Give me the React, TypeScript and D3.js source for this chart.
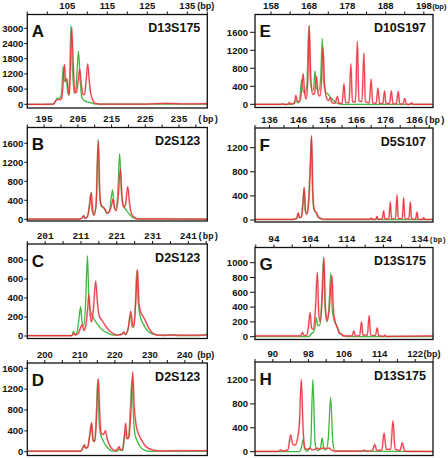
import React from 'react';
import * as d3 from 'd3';

type Pt = [number, number];

// ---------- Panel A : D13S175 ----------
const aRange: Pt = [95, 140];
const aLabels = [105, 115, 125, 135];
const aYTicks = [0, 600, 1200, 1800, 2400, 3000];
const aRed: Pt[] = [[95,0],[101.5,10],[102.2,150],[102.8,200],[103.3,180],[103.6,260],[103.9,700],[104.3,1580],[104.6,900],[104.9,1000],[105.2,600],[105.5,380],[105.8,1500],[106.1,3050],[106.5,1500],[106.9,450],[107.3,500],[107.7,900],[108.1,1400],[108.5,800],[108.9,380],[109.3,400],[109.7,900],[110.1,1600],[110.5,900],[110.9,400],[111.4,150],[112,40],[113,10],[125,10],[130,40],[134,20],[140,30]];
const aGreen: Pt[] = [[95,0],[101.5,10],[102,120],[102.5,230],[103.2,250],[103.6,500],[103.95,1500],[104.3,900],[104.7,1000],[105.1,500],[105.4,350],[105.6,1200],[105.9,3100],[106.3,1400],[106.7,450],[107.1,500],[107.4,1200],[107.8,2100],[108.2,1000],[108.6,300],[109.2,150],[110,100],[111,60],[112,10],[140,0]];

// ---------- Panel B : D2S123 ----------
const bRange: Pt = [190, 243.4];
const bLabels = [195, 205, 215, 225, 235];
const bYTicks = [0, 400, 800, 1200, 1600];
const bRed: Pt[] = [[190,5],[205.5,5],[206.3,30],[206.7,75],[207.1,20],[207.8,50],[208.5,300],[209,560],[209.4,200],[209.8,90],[210.4,300],[211.1,1650],[211.5,600],[211.9,300],[212.5,260],[213,220],[213.6,130],[214.2,150],[215,300],[215.5,430],[215.9,230],[216.4,180],[217,500],[217.6,1070],[218.1,450],[218.6,250],[219.1,300],[219.8,690],[220.3,350],[220.9,120],[221.8,40],[223,10],[243.4,5]];
const bGreen: Pt[] = [[190,5],[205.5,5],[206.3,30],[206.7,80],[207.1,20],[207.8,50],[208.4,300],[208.8,540],[209.2,200],[209.7,90],[210.4,300],[211,1680],[211.4,600],[211.9,280],[212.4,250],[212.9,220],[213.6,120],[214.3,150],[214.9,450],[215.3,620],[215.7,300],[216.2,200],[216.8,500],[217.4,1380],[217.9,600],[218.5,300],[219.5,180],[220.5,90],[221.5,30],[223,5],[243.4,5]];

// ---------- Panel C : D2S123 ----------
const cRange: Pt = [196, 246.3];
const cLabels = [201, 211, 221, 231, 241];
const cYTicks = [0, 200, 400, 600, 800];
const cRed: Pt[] = [[196,5],[208.5,5],[209,30],[209.4,10],[210.3,30],[210.8,80],[211.3,120],[211.8,60],[212.3,100],[212.9,300],[213.2,440],[213.6,220],[214,150],[214.5,300],[215.1,580],[215.6,350],[216.1,210],[216.8,170],[217.6,120],[218.6,70],[219.8,30],[221,10],[222.5,20],[223,40],[223.4,15],[224.2,80],[224.9,260],[225.4,130],[225.8,100],[226.3,350],[226.8,700],[227.2,350],[227.7,250],[228.3,210],[229,160],[230,80],[231,30],[232.5,10],[246.3,10]];
const cGreen: Pt[] = [[196,5],[208.4,5],[208.9,50],[209.3,15],[209.9,40],[210.5,200],[210.9,310],[211.3,150],[211.8,110],[212.3,350],[212.8,845],[213.2,400],[213.7,260],[214.5,190],[215.5,130],[216.5,80],[218,40],[220,10],[222.5,20],[223,40],[223.4,15],[224.2,80],[224.8,220],[225.3,100],[225.7,90],[226.2,350],[226.6,690],[227,350],[227.6,200],[228.5,120],[229.5,60],[231,20],[234,5],[237,15],[238,5],[244,5],[246.3,20]];

// ---------- Panel D : D2S123 ----------
const dRange: Pt = [195, 246.4];
const dLabels = [200, 210, 220, 230, 240];
const dYTicks = [0, 400, 800, 1200, 1600];
const dRed: Pt[] = [[195,10],[210.3,10],[210.9,80],[211.3,130],[211.7,70],[212.2,80],[212.9,350],[213.4,560],[213.8,220],[214.3,200],[214.8,700],[215.3,1400],[215.7,700],[216.1,350],[216.7,330],[217.3,400],[217.8,250],[218.5,120],[219.3,50],[220.3,20],[220.8,60],[221.2,100],[221.6,40],[222.2,40],[222.7,300],[223.1,550],[223.5,250],[224,280],[224.6,800],[225.1,1530],[225.5,900],[226.1,500],[226.9,320],[227.8,200],[228.9,100],[230.5,40],[233,15],[246.4,20]];
const dGreen: Pt[] = [[195,5],[210.3,5],[210.9,80],[211.2,120],[211.6,70],[212.2,80],[212.9,350],[213.3,540],[213.7,220],[214.2,190],[214.7,700],[215.1,1380],[215.5,600],[215.9,340],[216.6,220],[217.3,130],[218.2,60],[219.2,10],[220.8,10],[221.2,60],[221.6,20],[222.2,20],[222.7,250],[223,400],[223.4,250],[223.9,280],[224.4,800],[224.9,1380],[225.3,700],[225.7,350],[226.3,220],[227.2,100],[228.5,30],[230,5],[246.4,5]];

// ---------- Panel E : D10S197 ----------
const eRange: Pt = [153.8, 200.4];
const eLabels = [158, 168, 178, 188, 198];
const eYTicks = [0, 400, 800, 1200, 1600];
const eRed: Pt[] = [[153.8,0],[160.6,0],[161,15],[161.4,0],[162.4,0],[162.8,40],[163.2,5],[164.1,20],[164.5,200],[164.9,60],[165.5,60],[166,300],[166.4,680],[166.8,250],[167.2,120],[167.6,500],[168,1750],[168.4,600],[168.9,220],[169.4,250],[169.9,620],[170.3,250],[170.8,180],[171.2,500],[171.6,1270],[172,450],[172.5,150],[173,80],[173.5,150],[173.9,40],[174.7,20],[175.4,170],[175.8,20],[176.6,20],[177.1,460],[177.5,40],[178.4,30],[178.9,900],[179.3,60],[180.1,50],[180.6,1400],[181,80],[181.8,60],[182.3,1140],[182.7,60],[183.7,30],[184.2,560],[184.6,30],[185.5,20],[186,360],[186.4,20],[187.3,15],[187.7,300],[188.1,15],[189,15],[189.5,300],[189.9,15],[190.8,10],[191.3,290],[191.7,10],[192.5,5],[193,130],[193.4,5],[194.3,0],[194.8,30],[195.2,0],[200.4,0]];
const eGreen: Pt[] = [[153.8,0],[163.5,0],[164.2,40],[164.6,80],[165,30],[165.5,100],[166,550],[166.4,300],[166.9,250],[167.4,450],[167.9,1750],[168.3,500],[168.8,300],[169.2,400],[169.5,740],[169.9,350],[170.5,300],[171,600],[171.4,1460],[171.8,500],[172.3,280],[173,220],[173.8,130],[174.7,60],[175.5,20],[176.5,0],[200.4,0]];

// ---------- Panel F : D5S107 ----------
const fRange: Pt = [131, 192.3];
const fLabels = [136, 146, 156, 166, 176, 186];
const fYTicks = [0, 400, 800, 1200];
const fRed: Pt[] = [[131,10],[144,10],[145.4,30],[145.9,120],[146.3,40],[147,50],[147.5,250],[147.95,540],[148.4,150],[148.9,100],[149.5,300],[150.1,900],[150.5,1400],[150.9,500],[151.3,200],[151.7,150],[152.2,120],[152.7,60],[153.5,30],[155,15],[165,15],[170.6,15],[171,30],[171.4,10],[172.6,15],[173,60],[173.4,15],[174.8,20],[175.3,150],[175.7,20],[177.1,20],[177.6,300],[178,20],[179.4,25],[179.9,420],[180.3,25],[181.7,25],[182.2,370],[182.6,25],[184,20],[184.5,300],[184.9,20],[186.3,15],[186.8,130],[187.2,15],[188.7,10],[189.1,40],[189.5,10],[192.3,10]];
const fGreen: Pt[] = [[131,5],[144,5],[145.4,25],[145.85,110],[146.25,40],[146.9,50],[147.4,250],[147.9,520],[148.3,150],[148.8,100],[149.4,300],[150,900],[150.4,1380],[150.8,500],[151.2,200],[151.6,140],[152.1,110],[152.6,50],[153.5,20],[155,5],[170.6,5],[171,25],[171.4,5],[172.6,5],[173,45],[173.4,5],[192.3,5]];

// ---------- Panel G : D13S175 ----------
const gRange: Pt = [88.8, 137.6];
const gLabels = [94, 104, 114, 124, 134];
const gYTicks = [0, 200, 400, 600, 800, 1000];
const gRed: Pt[] = [[88.8,10],[100.5,10],[101.4,15],[101.8,60],[102.2,15],[103,20],[103.5,150],[103.9,330],[104.3,120],[104.8,100],[105.4,400],[105.9,870],[106.3,300],[106.7,200],[107.2,500],[107.7,1070],[108.1,400],[108.6,220],[109.1,350],[109.9,825],[110.3,350],[110.8,200],[111.4,120],[112,40],[112.5,40],[113,10],[115.4,10],[115.9,80],[116.3,10],[117.5,15],[118,200],[118.4,20],[119.6,20],[120.1,290],[120.5,20],[121.8,15],[122.3,120],[122.7,15],[124,5],[124.4,20],[124.8,5],[137.6,10]];
const gGreen: Pt[] = [[88.8,0],[103.5,0],[104.2,40],[104.8,60],[105.3,140],[105.6,260],[106,150],[106.6,160],[107.1,500],[107.6,1070],[108,400],[108.5,200],[109,350],[109.6,860],[110,350],[110.5,220],[111.2,150],[112,60],[113,10],[114,0],[137.6,0]];

// ---------- Panel H : D13S175 ----------
const hRange: Pt = [86, 126];
const hLabels = [90, 98, 106, 114, 122];
const hYTicks = [0, 400, 800, 1200];
const hRed: Pt[] = [[86,5],[91.2,5],[91.8,30],[92.3,10],[93.4,30],[94,280],[94.5,120],[95,110],[95.5,200],[96,500],[96.4,1210],[96.8,400],[97.2,60],[97.8,40],[98.4,60],[98.8,30],[99.5,40],[100,60],[100.5,40],[101.2,60],[102,55],[102.6,60],[103.2,30],[104,10],[110,10],[110.5,25],[111,10],[112.4,20],[112.9,120],[113.4,20],[114.5,30],[115,310],[115.5,40],[116.5,40],[117,520],[117.5,40],[118.6,20],[119.1,150],[119.6,15],[120.5,5],[126,5]];
const hGreen: Pt[] = [[86,0],[96,0],[96.4,60],[96.8,200],[97.2,40],[97.7,10],[98.5,100],[99,1210],[99.5,150],[100,20],[100.7,60],[101.1,230],[101.5,40],[102,30],[102.5,250],[103,910],[103.5,150],[104,10],[126,0]];

const letters = ['A', 'B', 'C', 'D', 'E', 'F', 'G', 'H'];
const markers = ['D13S175', 'D2S123', 'D2S123', 'D2S123', 'D10S197', 'D5S107', 'D13S175', 'D13S175'];

interface PanelDef {
  letter: string; marker: string; range: Pt; labels: number[]; step: number;
  yTicks: number[]; red: Pt[]; green: Pt[]; mono: boolean;
  left: number; right: number; top: number; bottom: number; y0: number; yMax: number;
}

const L = { left: 27.3, right: 207.3 };
const R = { left: 255, right: 433 };

const panels: PanelDef[] = [
  { letter: letters[0], marker: markers[0], range: aRange, labels: aLabels, step: 5, yTicks: aYTicks, red: aRed, green: aGreen, mono: false, ...L, top: 14.5, bottom: 108, y0: 104.3, yMax: 28.3 },
  { letter: letters[1], marker: markers[1], range: bRange, labels: bLabels, step: 5, yTicks: bYTicks, red: bRed, green: bGreen, mono: true, ...L, top: 127.5, bottom: 221, y0: 219.3, yMax: 143.3 },
  { letter: letters[2], marker: markers[2], range: cRange, labels: cLabels, step: 5, yTicks: cYTicks, red: cRed, green: cGreen, mono: true, ...L, top: 244, bottom: 338.5, y0: 336, yMax: 260 },
  { letter: letters[3], marker: markers[3], range: dRange, labels: dLabels, step: 5, yTicks: dYTicks, red: dRed, green: dGreen, mono: false, ...L, top: 363, bottom: 455.5, y0: 451.7, yMax: 368.3 },
  { letter: letters[4], marker: markers[4], range: eRange, labels: eLabels, step: 5, yTicks: eYTicks, red: eRed, green: eGreen, mono: false, ...R, top: 14.5, bottom: 107.5, y0: 104.3, yMax: 32.3 },
  { letter: letters[5], marker: markers[5], range: fRange, labels: fLabels, step: 5, yTicks: fYTicks, red: fRed, green: fGreen, mono: true, ...R, top: 128, bottom: 222, y0: 220, yMax: 147.7 },
  { letter: letters[6], marker: markers[6], range: gRange, labels: gLabels, step: 5, yTicks: gYTicks, red: gRed, green: gGreen, mono: true, ...R, top: 247.5, bottom: 339.5, y0: 336.7, yMax: 262.7 },
  { letter: letters[7], marker: markers[7], range: hRange, labels: hLabels, step: 4, yTicks: hYTicks, red: hRed, green: hGreen, mono: false, ...R, top: 362, bottom: 455.5, y0: 451.7, yMax: 380 },
];

const SANS = '"Liberation Sans", Arial, Helvetica, sans-serif';
const MONO = '"Liberation Mono", "DejaVu Sans Mono", monospace';
const GREEN = '#3cb83a';
const RED = '#ea2733';
const EDGE = 446.5;

function Panel({ p, i }: { p: PanelDef; i: number }) {
  const x = d3.scaleLinear().domain(p.range).range([p.left, p.right]);
  const maxTick = p.yTicks[p.yTicks.length - 1];
  const y = d3.scaleLinear().domain([0, maxTick]).range([p.y0, p.yMax]);
  const line = d3.line<Pt>().x(d => x(d[0])).y(d => y(d[1])).curve(d3.curveMonotoneX);
  const first = p.labels[0];
  const k0 = Math.ceil((p.range[0] - first) / p.step - 1e-6);
  const ticks = d3.range(k0, Math.floor((p.range[1] - first) / p.step + 1e-6) + 1).map(k => first + k * p.step);
  const clipId = `clip${i}`;
  const axisFont = p.mono ? MONO : SANS;
  const labelSize = 9.5;
  const charW = p.mono ? 0.6 * labelSize : 0.556 * labelSize;
  const emW = p.mono ? 2.4 : 1.888; // width of "(bp)" in em
  const last = p.labels[p.labels.length - 1];
  const lastRight = x(last) + (String(last).length * charW) / 2;
  const bpX = Math.max(p.right - 10, lastRight + 0.5);
  const bpSize = Math.min(9, (EDGE - bpX) / emW);
  const isRight = p.left > 200;
  const yTickLen = isRight ? 5 : 3;
  const yLabelGap = isRight ? 7 : 4;
  return (
    <g>
      <defs>
        <clipPath id={clipId}>
          <rect x={p.left} y={p.top} width={p.right - p.left} height={p.bottom - p.top} />
        </clipPath>
      </defs>
      <g clipPath={`url(#${clipId})`}>
        <path d={line(p.green) || ''} fill="none" stroke={GREEN} strokeWidth={1.3} strokeLinejoin="round" />
        <path d={line(p.red) || ''} fill="none" stroke="#f59aa3" strokeWidth={2.2} strokeOpacity={0.45} strokeLinejoin="round" />
        <path d={line(p.red) || ''} fill="none" stroke={RED} strokeWidth={1.2} strokeOpacity={0.85} strokeLinejoin="round" />
      </g>
      <rect x={p.left} y={p.top} width={p.right - p.left} height={p.bottom - p.top} fill="none" stroke="#111" strokeWidth={1.3} />
      {ticks.map(t => (
        <line key={t} x1={x(t)} x2={x(t)} y1={p.top} y2={p.top - 3} stroke="#111" strokeWidth={1} />
      ))}
      {p.labels.map(t => (
        <text key={t} x={x(t)} y={p.top - 5.5} textAnchor="middle" fontFamily={axisFont} fontWeight="bold" fontSize={labelSize} fill="#111">{t}</text>
      ))}
      <text x={bpX} y={p.top - 5.5} fontFamily={axisFont} fontWeight="bold" fontSize={bpSize} fill="#111">(bp)</text>
      {p.yTicks.map(t => (
        <g key={t}>
          <line x1={p.left - yTickLen} x2={p.left} y1={y(t)} y2={y(t)} stroke="#111" strokeWidth={1} />
          <text x={p.left - yLabelGap} y={y(t)} dy="0.35em" textAnchor="end" fontFamily={SANS} fontWeight="bold" fontSize={9.5} fill="#111">{t}</text>
        </g>
      ))}
      <text x={p.left + 4.5} y={p.top + 22.5} fontFamily={SANS} fontWeight="bold" fontSize={17} fill="#111">{p.letter}</text>
      <text x={p.right - 7} y={p.top + 17.5} textAnchor="end" fontFamily={SANS} fontWeight="bold" fontSize={12.5} fill="#111">{p.marker}</text>
    </g>
  );
}

export default function App() {
  return (
    <svg width={448} height={458} viewBox="0 0 448 458" style={{ position: 'absolute', left: 0, top: 0, background: '#fff' }}>
      <rect x={0} y={0} width={448} height={458} fill="#fff" />
      {panels.map((p, i) => <Panel key={i} p={p} i={i} />)}
    </svg>
  );
}
